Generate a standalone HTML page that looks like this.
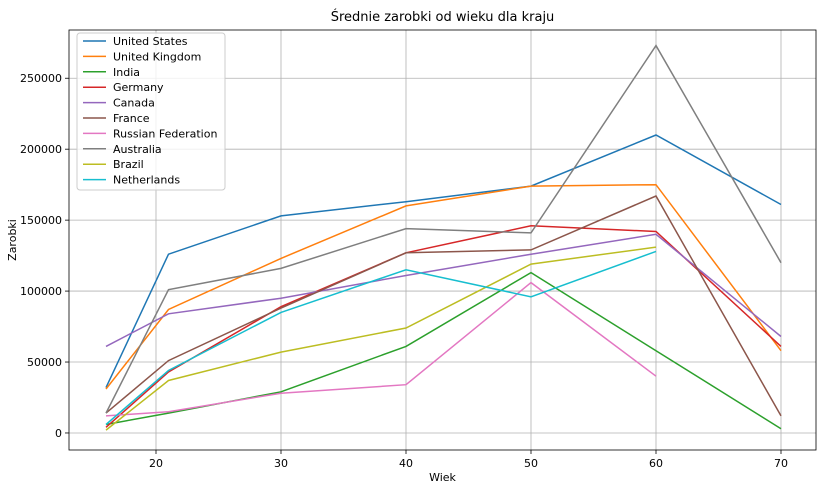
<!DOCTYPE html>
<html><head><meta charset="utf-8"><style>
body{margin:0;background:#fff;font-family:"Liberation Sans","DejaVu Sans",sans-serif;}
svg text{font-family:"DejaVu Sans","Liberation Sans",sans-serif;}
</style></head><body>
<svg id="chart" width="827" height="489" xmlns="http://www.w3.org/2000/svg"></svg>
<script>
const ages=[16,21,30,40,50,60,70];
const countries=["United States","United Kingdom","India","Germany","Canada","France","Russian Federation","Australia","Brazil","Netherlands"];
const usVals=[32000,126000,153000,163000,174000,210000,161000];
const ukVals=[31000,87000,123000,160000,174000,175000,58000];
const inVals=[6000,14000,29000,61000,113000,58000,3000];
const deVals=[4000,43000,89000,127000,146000,142000,61000];
const caVals=[61000,84000,95000,111000,126000,140000,68000];
const frVals=[14000,51000,88000,127000,129000,167000,12000];
const ruVals=[12000,15000,28000,34000,106000,40000,null];
const auVals=[14000,101000,116000,144000,141000,273000,120000];
const brVals=[2000,37000,57000,74000,119000,131000,null];
const nlVals=[6000,44000,85000,115000,96000,128000,null];
const xTicks=[20,30,40,50,60,70];
const yTicks=[0,50000,100000,150000,200000,250000];

const series=[usVals,ukVals,inVals,deVals,caVals,frVals,ruVals,auVals,brVals,nlVals];
const colors=["#1f77b4","#ff7f0e","#2ca02c","#d62728","#9467bd","#8c564b","#e377c2","#7f7f7f","#bcbd22","#17becf"];
const L=69,R=816,T=30,B=450;
const xMin=13.04,xMax=72.8,yMin=-12000,yMax=284000;
const xs=v=>L+(v-xMin)/(xMax-xMin)*(R-L);
const ys=v=>B-(v-yMin)/(yMax-yMin)*(B-T);
const svg=document.getElementById('chart');
const NS="http://www.w3.org/2000/svg";
function mk(tag,attrs,parent){const e=document.createElementNS(NS,tag);for(const k in attrs)e.setAttribute(k,attrs[k]);(parent||svg).appendChild(e);return e;}

xTicks.forEach(t=>{
  const x=xs(t);
  const g=mk('line',{x1:x,x2:x,y1:T,y2:B,stroke:'#b0b0b0','stroke-width':0.8});
  
  
  mk('line',{x1:x,x2:x,y1:B,y2:B+4,stroke:'#000','stroke-width':0.8});
  const tx=mk('text',{x:x,y:B+17,'text-anchor':'middle','font-size':11});
  tx.textContent=t;
  
  
});
yTicks.forEach(t=>{
  const y=ys(t);
  const g=mk('line',{x1:L,x2:R,y1:y,y2:y,stroke:'#b0b0b0','stroke-width':0.8});
  
  
  mk('line',{x1:L-4,x2:L,y1:y,y2:y,stroke:'#000','stroke-width':0.8});
  const tx=mk('text',{x:L-7,y:y+4,'text-anchor':'end','font-size':11});
  tx.textContent=t;
  
  
});

series.forEach((vals,i)=>{
  const pts=[];
  vals.forEach((v,j)=>{if(v!==null)pts.push(xs(ages[j]).toFixed(1)+','+ys(v).toFixed(1));});
  const p=mk('polyline',{points:pts.join(' '),fill:'none',stroke:colors[i],'stroke-width':1.5});
  
  
});

const frame=mk('rect',{x:L,y:T,width:R-L,height:B-T,fill:'none',stroke:'#000','stroke-width':0.8});



const title=mk('text',{x:(L+R)/2,y:21,'text-anchor':'middle','font-size':13});
title.textContent='Średnie zarobki od wieku dla kraju';


const xl=mk('text',{x:(L+R)/2,y:481,'text-anchor':'middle','font-size':11});
xl.textContent='Wiek';


const yl=mk('text',{x:16,y:(T+B)/2,'text-anchor':'middle','font-size':11,transform:'rotate(-90 16 '+((T+B)/2)+')'});
yl.textContent='Zarobki';



const lg=mk('g',{});


mk('rect',{x:77,y:33,width:148,height:157,rx:3,fill:'#fff','fill-opacity':0.8,stroke:'#ccc','stroke-width':1},lg);
countries.forEach((c,i)=>{
  const y=41+i*15.4;
  mk('line',{x1:83,x2:106,y1:y,y2:y,stroke:colors[i],'stroke-width':1.5},lg);
  const t=mk('text',{x:113,y:y+4,'font-size':11},lg);
  t.textContent=c;
  
  
});
</script>
</body></html>
